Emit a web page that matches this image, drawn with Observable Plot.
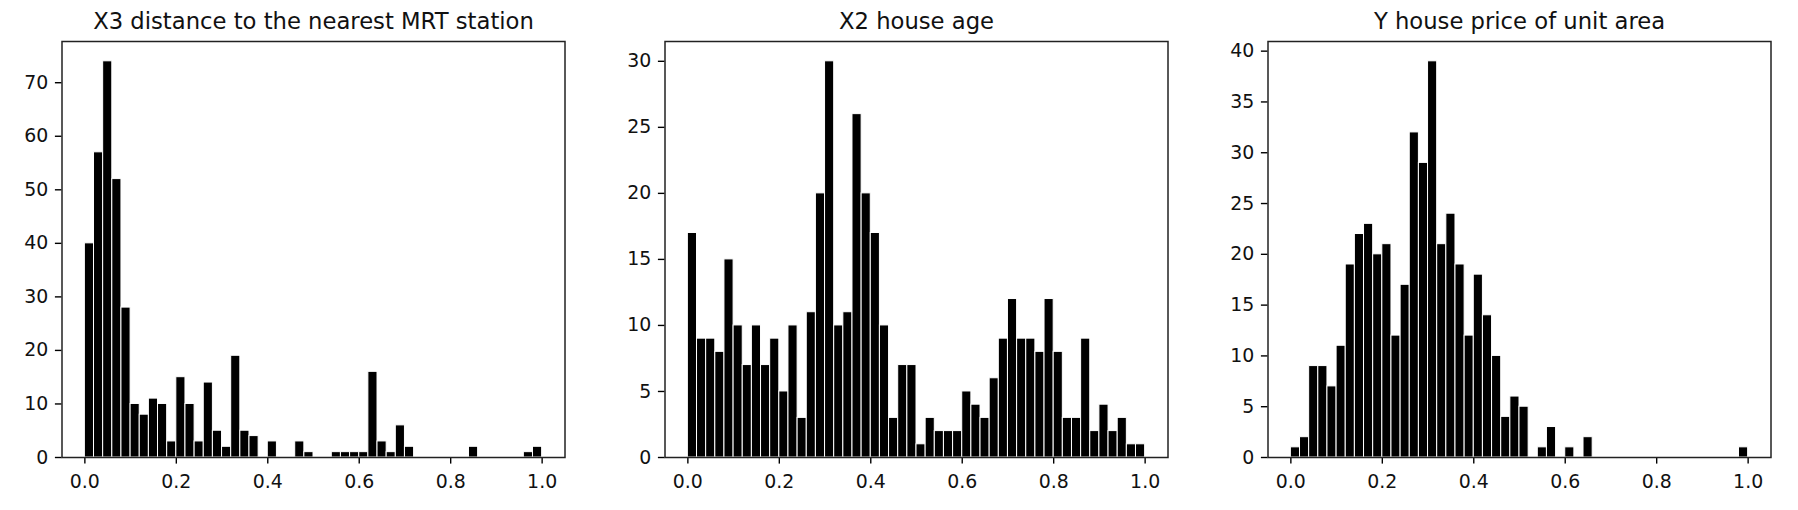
<!DOCTYPE html>
<html>
<head>
<meta charset="utf-8">
<script src="https://cdn.jsdelivr.net/npm/d3@7"></script>
<script src="https://cdn.jsdelivr.net/npm/@observablehq/plot@0.6"></script>
<style>
  html, body { margin: 0; padding: 0; background: #fff; }
  #wrap { position: relative; width: 1798px; height: 510px; overflow: hidden; background: #fff; }
  #wrap svg { position: absolute; top: 0; overflow: visible; }
</style>
</head>
<body>
<div id="wrap"></div>
<script>
// ---- data (histogram counts, 50 bins of width 0.02 on [0, 1]) ----
const binWidth = 0.02;
const titles = [
  "X3 distance to the nearest MRT station",
  "X2 house age",
  "Y house price of unit area"
];
const distanceCounts = [40,57,74,52,28,10,8,11,10,3, 15,10,3,14,5,2,19,5,4,0, 3,0,0,3,1,0,0,1,1,1, 1,16,3,1,6,2,0,0,0,0, 0,0,2,0,0,0,0,0,1,2];
const ageCounts = [17,9,9,8,15,10,7,10,7,9, 5,10,3,11,20,30,10,11,26,20, 17,10,3,7,7,1,3,2,2,2, 5,4,3,6,9,12,9,9,8,12, 8,3,3,9,2,4,2,3,1,1];
const priceCounts = [1,2,9,9,7,11,19,22,23,20, 21,12,17,32,29,39,21,24,19,12, 18,14,10,4,6,5,0,1,3,0, 1,0,2,0,0,0,0,0,0,0, 0,0,0,0,0,0,0,0,0,1];
const xTicks = [0, 0.2, 0.4, 0.6, 0.8, 1.0];
const distanceYTicks = [0,10,20,30,40,50,60,70];
const ageYTicks = [0,5,10,15,20,25,30];
const priceYTicks = [0,5,10,15,20,25,30,35,40];

const panels = [
  {title: titles[0], counts: distanceCounts, yTicks: distanceYTicks},
  {title: titles[1], counts: ageCounts, yTicks: ageYTicks},
  {title: titles[2], counts: priceCounts, yTicks: priceYTicks}
];

const wrap = document.getElementById("wrap");
const font = "'DejaVu Sans', sans-serif";
const step = 603;

panels.forEach((p, i) => {
  const bins = p.counts.map((c, k) => ({x1: k * binWidth, x2: (k + 1) * binWidth, count: c}))
                       .filter(d => d.count > 0);
  const ymax = d3.max(p.counts) * 1.05;
  const chart = Plot.plot({
    width: step,
    height: 510,
    marginLeft: 61.5,
    marginRight: step - 61.5 - 503,
    marginTop: 41,
    marginBottom: 53,
    style: {fontFamily: font, color: "#000", background: "transparent"},
    x: {domain: [-0.05, 1.05]},
    y: {domain: [0, ymax]},
    marks: [
      Plot.rectY(bins, {x1: "x1", x2: "x2", y: "count", fill: "black", stroke: "white", strokeWidth: 1}),
      Plot.axisX({ticks: xTicks, tickFormat: d3.format(".1f"), tickSize: 6.6, tickPadding: 10, fontSize: 18.9, label: null, strokeWidth: 1.4, fill: "#111"}),
      Plot.axisY({ticks: p.yTicks, tickFormat: d3.format("d"), tickSize: 6.6, tickPadding: 7.2, fontSize: 18.9, label: null, strokeWidth: 1.4, fill: "#111"}),
      Plot.frame({stroke: "#222", strokeWidth: 1.5}),
      Plot.text([p.title], {frameAnchor: "top", lineAnchor: "bottom", dy: -13, fontSize: 22.7, fill: "#111", text: d => d})
    ]
  });
  chart.style.left = (i * step) + "px";
  wrap.appendChild(chart);
});
</script>
</body>
</html>
